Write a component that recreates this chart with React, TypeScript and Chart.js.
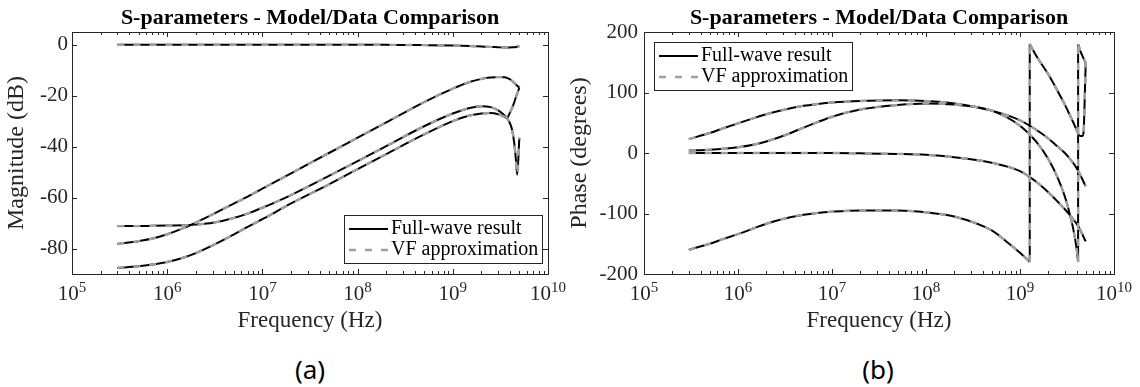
import React, { useEffect, useRef } from "react";
import { Chart, registerables } from "chart.js";

Chart.register(...registerables);

// ---------- data ----------
const FREQ = [3e5, 5e5, 7e5, 1e6, 1.5e6, 2e6, 3e6, 5e6, 7e6, 1e7, 2e7, 5e7, 1e8, 2e8, 5e8, 1e9, 1.5e9, 2e9, 2.5e9, 3e9, 3.5e9, 3.7e9, 4e9, 4.2e9, 4.4e9, 4.6e9, 4.75e9, 5e9];

const magReflection = [0, 0, 0, 0, 0, 0, 0, 0, 0, 0, 0, 0, 0, -0.05, -0.15, -0.3, -0.5, -0.7, -0.85, -1.0, -1.1, -1.1, -1.05, -1.0, -0.95, -0.85, -0.75, -0.6];
const magCouplingA = [-78.2, -77.1, -76.1, -74.4, -71.9, -69.8, -66.6, -62.4, -59.6, -56.5, -50.5, -42.5, -36.5, -30.5, -22.5, -17.2, -14.6, -13.4, -12.9, -12.7, -12.8, -13.0, -13.6, -14.2, -14.9, -15.6, -16.1, -16.8];
const magCouplingB = [-71.2, -71.2, -71.1, -71.0, -70.9, -70.6, -69.9, -68.0, -66.3, -64.0, -59.0, -51.5, -45.7, -39.8, -32.0, -27.0, -24.8, -24.1, -24.5, -25.8, -27.8, -28.8, -31.0, -33.5, -38.0, -45.0, -51.0, -36.5];
const magCouplingC = [-87.6, -87.0, -86.3, -85.3, -83.5, -81.8, -78.8, -74.5, -71.5, -68.5, -62.3, -54.8, -48.8, -42.9, -35.2, -30.0, -27.8, -27.0, -26.8, -27.3, -28.3, -28.8, -26.5, -24.8, -22.8, -20.6, -19.2, -16.8];

const phase1 = [23, 33, 41, 49, 58, 64, 71, 78, 81, 83.5, 86, 87, 86, 82, 70, 54, 38, 24, 11, 0, -12, -17, -25, -31, -37, -43, -48, -55];
const phase3 = [0, 0, 0, 0, 0, 0, 0, 0, 0, 0, -0.5, -1.5, -3, -7, -16, -30, -48, -65, -80, -93, -105, -110, -117, -122, -128, -134, -139, -146];

const phaseFreq2 = [3e5, 5e5, 7e5, 1e6, 1.5e6, 2e6, 3e6, 5e6, 7e6, 1e7, 2e7, 5e7, 1e8, 2e8, 5e8, 1e9, 1.5e9, 2e9, 2.5e9, 3e9, 3.5e9, 3.7e9, 4e9, 4.15e9, 4.15e9, 4.15e9, 4.4e9, 4.6e9, 4.75e9, 5e9];
const phase2 = [4, 5.5, 7, 9.5, 14, 19, 28, 42, 51, 60, 72, 79.5, 82, 80, 70, 45, 18, -10, -40, -72, -110, -127, -158, -180, null, 180, 168, 161, 156, 149];

const phaseFreq4 = [3e5, 5e5, 7e5, 1e6, 1.5e6, 2e6, 3e6, 5e6, 7e6, 1e7, 2e7, 5e7, 1e8, 2e8, 5e8, 7e8, 1e9, 1.27e9, 1.27e9, 1.27e9, 1.5e9, 2e9, 2.5e9, 3e9, 3.5e9, 3.7e9, 4e9, 4.15e9, 4.4e9, 4.6e9, 4.75e9, 4.9e9, 5e9];
const phase4 = [-160, -150, -142, -134, -124, -117, -109, -102, -99, -97, -95, -95, -98, -105, -128, -145, -165, -180, null, 180, 160, 130, 103, 80, 58, 50, 38, 32, 28, 28, 35, 100, 149];

const X_TICKS = [1e5, 1e6, 1e7, 1e8, 1e9, 1e10];
const MAG_TICKS = [-80, -60, -40, -20, 0];
const PHASE_TICKS = [-200, -100, 0, 100, 200];
const LEGEND_LABELS = ["Full-wave result", "VF approximation"];
const TITLE = "S-parameters - Model/Data Comparison";

// ---------- styling ----------
const SERIF = '"Liberation Serif", "Times New Roman", serif';
const AXIS_COLOR = "#262626";
const GRAY = "#a0a0a0";
const GRAY_DASH = [7, 9];

type Series = { freq: number[]; values: (number | null)[] };

function buildDatasets(series: Series[]) {
  const pts = (f: number[], v: (number | null)[]) => f.map((x, i) => ({ x, y: v[i] }));
  const jumps = (f: number[], v: (number | null)[]) => {
    const out: { x: number; y: number | null }[][] = [];
    v.forEach((y, i) => {
      if (y === null && i > 0 && i < v.length - 1) {
        out.push([{ x: f[i - 1], y: v[i - 1] }, { x: f[i + 1], y: v[i + 1] }]);
      }
    });
    return out;
  };
  const styles = [
    { label: LEGEND_LABELS[1], borderColor: GRAY, borderWidth: 2.4, borderDash: GRAY_DASH },
    { label: LEGEND_LABELS[0], borderColor: "#000", borderWidth: 2, borderDash: [] as number[] },
  ];
  const out: any[] = [];
  for (const st of styles) {
    for (const s of series) {
      out.push({ ...st, data: pts(s.freq, s.values), pointRadius: 0, cubicInterpolationMode: "monotone", fill: false, borderCapStyle: "butt" });
      for (const j of jumps(s.freq, s.values)) {
        out.push({ ...st, data: j, pointRadius: 0, tension: 0, fill: false, borderCapStyle: "butt" });
      }
    }
  }
  return out;
}

type Spec = {
  yTitle: string;
  yMin: number;
  yMax: number;
  yTicks: number[];
  series: Series[];
  yWidth: number;
  padRight: number;
  yTitlePad: number;
  yTickPad: number;
  legendX: number;
  legendY: number;
};

function framePlugin(spec: Spec) {
  return {
    id: "matlabFrame",
    afterDraw(chart: any) {
      const { ctx, chartArea: a, scales } = chart;
      const xs = scales.x;
      const ys = scales.y;
      ctx.save();
      ctx.strokeStyle = AXIS_COLOR;
      ctx.lineWidth = 1;
      ctx.setLineDash([]);
      ctx.beginPath();
      for (let e = 5; e <= 10; e++) {
        for (let k = 1; k <= 9; k++) {
          const v = k * Math.pow(10, e);
          if (v > 1e10 * 1.0001) break;
          const px = Math.round(xs.getPixelForValue(v)) + 0.5;
          const L = k === 1 ? 5 : 3;
          ctx.moveTo(px, a.bottom);
          ctx.lineTo(px, a.bottom - L);
          ctx.moveTo(px, a.top);
          ctx.lineTo(px, a.top + L);
        }
      }
      for (const t of spec.yTicks) {
        const py = Math.round(ys.getPixelForValue(t)) + 0.5;
        ctx.moveTo(a.left, py);
        ctx.lineTo(a.left + 5, py);
        ctx.moveTo(a.right, py);
        ctx.lineTo(a.right - 5, py);
      }
      ctx.stroke();
      ctx.strokeRect(Math.round(a.left) + 0.5, Math.round(a.top) + 0.5, Math.round(a.right - a.left), Math.round(a.bottom - a.top));

      // x tick labels: 10 with raised exponent
      ctx.fillStyle = AXIS_COLOR;
      ctx.textBaseline = "alphabetic";
      ctx.textAlign = "left";
      for (const v of X_TICKS) {
        const px = xs.getPixelForValue(v);
        const base = "10";
        const exp = String(Math.round(Math.log10(v)));
        ctx.font = `21px ${SERIF}`;
        const wb = ctx.measureText(base).width;
        ctx.font = `15px ${SERIF}`;
        const we = ctx.measureText(exp).width;
        const x0 = px - (wb + we) / 2;
        ctx.font = `21px ${SERIF}`;
        ctx.fillText(base, x0, a.bottom + 26);
        ctx.font = `15px ${SERIF}`;
        ctx.fillText(exp, x0 + wb, a.bottom + 18);
      }

      // legend
      const lx = spec.legendX;
      const ly = spec.legendY;
      const w = 198;
      const h = 48;
      ctx.fillStyle = "#fff";
      ctx.fillRect(lx, ly, w, h);
      ctx.strokeStyle = AXIS_COLOR;
      ctx.lineWidth = 1;
      ctx.strokeRect(lx + 0.5, ly + 0.5, w, h);
      const rows = [
        { label: LEGEND_LABELS[0], color: "#000", width: 2, dash: [] as number[] },
        { label: LEGEND_LABELS[1], color: GRAY, width: 2.4, dash: GRAY_DASH },
      ];
      rows.forEach((r, i) => {
        const y = ly + 14 + i * 21;
        ctx.beginPath();
        ctx.strokeStyle = r.color;
        ctx.lineWidth = r.width;
        ctx.setLineDash(r.dash);
        ctx.moveTo(lx + 5, y);
        ctx.lineTo(lx + 44, y);
        ctx.stroke();
        ctx.setLineDash([]);
        ctx.fillStyle = "#000";
        ctx.font = `20px ${SERIF}`;
        ctx.textBaseline = "middle";
        ctx.textAlign = "left";
        ctx.fillText(r.label, lx + 47, y);
      });
      ctx.restore();
    },
  };
}

function SChart({ spec }: { spec: Spec }) {
  const ref = useRef<HTMLCanvasElement>(null);
  useEffect(() => {
    if (!ref.current) return;
    const chart = new Chart(ref.current, {
      type: "line",
      data: { datasets: buildDatasets(spec.series) },
      options: {
        animation: false,
        responsive: false,
        maintainAspectRatio: false,
        layout: { padding: { left: 0, right: spec.padRight, top: 0, bottom: 0 } },
        plugins: {
          legend: { display: false },
          tooltip: { enabled: false },
          title: {
            display: true,
            text: TITLE,
            fullSize: false,
            color: "#000",
            font: { family: SERIF, size: 22, weight: "bold" },
            padding: { top: 5, bottom: 0.6 },
          },
        },
        scales: {
          x: {
            type: "logarithmic",
            position: "bottom",
            min: 1e5,
            max: 1e10,
            afterBuildTicks: (s: any) => {
              s.ticks = X_TICKS.map((value) => ({ value }));
            },
            afterFit: (s: any) => {
              s.height = 66;
            },
            grid: { display: false, drawTicks: false },
            border: { display: false },
            ticks: { display: false },
            title: {
              display: true,
              text: "Frequency (Hz)",
              color: AXIS_COLOR,
              font: { family: SERIF, size: 23 },
              padding: { top: 0, bottom: 5 },
            },
          },
          y: {
            type: "linear",
            position: "left",
            min: spec.yMin,
            max: spec.yMax,
            afterBuildTicks: (s: any) => {
              s.ticks = spec.yTicks.map((value) => ({ value }));
            },
            afterFit: (s: any) => {
              s.width = spec.yWidth;
            },
            grid: { display: false, drawTicks: false },
            border: { display: false },
            ticks: {
              padding: spec.yTickPad,
              color: AXIS_COLOR,
              font: { family: SERIF, size: 21 },
              callback: (v: any) => String(v),
            },
            title: {
              display: true,
              text: spec.yTitle,
              color: AXIS_COLOR,
              font: { family: SERIF, size: 24 },
              padding: { top: spec.yTitlePad, bottom: 0 },
            },
          },
        },
      } as any,
      plugins: [framePlugin(spec)],
    });
    return () => chart.destroy();
  }, [spec]);
  return <canvas ref={ref} width={570} height={340} style={{ display: "block", width: 570, height: 340 }} />;
}

const magSpec: Spec = {
  yTitle: "Magnitude (dB)",
  yMin: -90,
  yMax: 5,
  yTicks: MAG_TICKS,
  series: [
    { freq: FREQ, values: magReflection },
    { freq: FREQ, values: magCouplingA },
    { freq: FREQ, values: magCouplingB },
    { freq: FREQ, values: magCouplingC },
  ],
  yWidth: 72,
  padRight: 22,
  yTitlePad: 2,
  yTickPad: 4,
  legendX: 344,
  legendY: 215,
};

const phaseSpec: Spec = {
  yTitle: "Phase (degrees)",
  yMin: -200,
  yMax: 200,
  yTicks: PHASE_TICKS,
  series: [
    { freq: FREQ, values: phase1 },
    { freq: phaseFreq2, values: phase2 },
    { freq: FREQ, values: phase3 },
    { freq: phaseFreq4, values: phase4 },
  ],
  yWidth: 74,
  padRight: 26,
  yTitlePad: -5,
  yTickPad: 6,
  legendX: 84,
  legendY: 42,
};

const subLabel: React.CSSProperties = {
  position: "absolute",
  top: 354,
  width: 100,
  textAlign: "center",
  fontFamily: '"Noto Sans", sans-serif',
  fontSize: 26,
  lineHeight: "30px",
  color: "#000",
};

export default function App() {
  return (
    <div style={{ position: "absolute", left: 0, top: 0, width: 1140, height: 387, background: "#fff", overflow: "hidden" }}>
      <div style={{ position: "absolute", left: 0, top: 0 }}>
        <SChart spec={magSpec} />
      </div>
      <div style={{ position: "absolute", left: 570, top: 0 }}>
        <SChart spec={phaseSpec} />
      </div>
      <div style={{ ...subLabel, left: 260 }}>(a)</div>
      <div style={{ ...subLabel, left: 828 }}>(b)</div>
    </div>
  );
}
